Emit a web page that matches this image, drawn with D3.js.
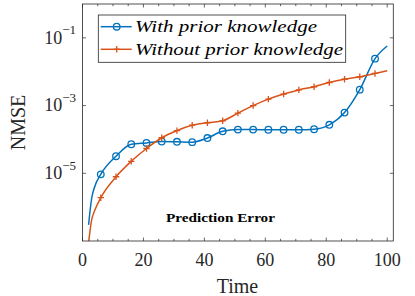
<!DOCTYPE html>
<html><head><meta charset="utf-8">
<script src="https://cdn.jsdelivr.net/npm/d3@7"></script>
</head><body style="margin:0">
<svg id="c" width="415" height="296">
</svg>
<script>
const timeWith = [2,3,4,6,11,16,21,26,31,36,41,46,51,56,61,66,71,76,81,86,91,96,100];
const nmseWith = [3.0e-7,1.8e-6,4.0e-6,9.3e-6,3.2e-5,7.2e-5,7.9e-5,8.7e-5,8.5e-5,8.3e-5,1.1e-4,1.74e-4,1.95e-4,1.95e-4,1.93e-4,1.93e-4,1.93e-4,2.0e-4,2.7e-4,6.2e-4,2.95e-3,2.43e-2,5.75e-2];
const timeWithout = [2,3,4,6,11,16,21,26,31,36,41,46,51,56,61,66,71,76,81,86,91,96,100];
const nmseWithout = [8.9e-8,4.2e-7,7.9e-7,1.9e-6,7.9e-6,2.26e-5,5.4e-5,1.12e-4,1.82e-4,2.63e-4,3.1e-4,3.55e-4,6.0e-4,1.0e-3,1.55e-3,2.19e-3,2.9e-3,3.6e-3,4.8e-3,6.0e-3,7.1e-3,8.9e-3,1.07e-2];
const markerTimes = [6,11,16,21,26,31,36,41,46,51,56,61,66,71,76,81,86,91,96];
const xTicks = [0,20,40,60,80,100];
const xMinorTicks = d3.range(0,101,5);
const yTickExps = [-1,-3,-5];
const seriesNames = ["With prior knowledge","Without prior knowledge"];
const colors = ["#0072BD","#D95319"];

const svg = d3.select("#c");
const L=82.5, R=393.3, T=4, B=241;
const xScale = d3.scaleLinear().domain([0,102]).range([L,R]);
const yScale = d3.scaleLog().domain([1e-7,1]).range([B,T]);
const axisCol = "#262626";

function addText(g, size, extra){
  return g.append("text").attr("style","font-family:'Liberation Serif';font-size:"+size+"px;"+(extra||""));
}

svg.append("defs").append("clipPath").attr("id","clip")
  .append("rect").attr("x",L).attr("y",T).attr("width",R-L).attr("height",B-T);

const tg = svg.append("g").attr("stroke",axisCol).attr("stroke-width",0.7);
xMinorTicks.forEach(v=>{
  const len = (v%20===0)?3.5:2.2;
  tg.append("line").attr("x1",xScale(v)).attr("x2",xScale(v)).attr("y1",B).attr("y2",B-len);
  tg.append("line").attr("x1",xScale(v)).attr("x2",xScale(v)).attr("y1",T).attr("y2",T+len);
});
yTickExps.forEach(e=>{
  const yy=yScale(Math.pow(10,e));
  tg.append("line").attr("x1",L).attr("x2",L+3.5).attr("y1",yy).attr("y2",yy);
  tg.append("line").attr("x1",R).attr("x2",R-3.5).attr("y1",yy).attr("y2",yy);
});

const series = [
  {t:timeWith, v:nmseWith},
  {t:timeWithout, v:nmseWithout}
];
const lineGen = d3.line().x(d=>xScale(d[0])).y(d=>yScale(d[1])).curve(d3.curveMonotoneX);
const lg = svg.append("g").attr("clip-path","url(#clip)");
series.forEach((s,i)=>{
  const pts = s.t.map((t,j)=>[t,s.v[j]]);
  lg.append("path").attr("d",lineGen(pts)).attr("fill","none")
    .attr("stroke",colors[i]).attr("stroke-width",1.5);
  pts.filter(p=>markerTimes.includes(p[0])).forEach(p=>{
    const cx=xScale(p[0]), cy=yScale(p[1]);
    if(i===0){
      lg.append("circle").attr("cx",cx).attr("cy",cy).attr("r",3.3)
        .attr("fill","none").attr("stroke",colors[i]).attr("stroke-width",1.3);
    } else {
      lg.append("line").attr("x1",cx-3.2).attr("x2",cx+3.2).attr("y1",cy).attr("y2",cy)
        .attr("stroke",colors[i]).attr("stroke-width",1.3);
      lg.append("line").attr("x1",cx).attr("x2",cx).attr("y1",cy-3.2).attr("y2",cy+3.2)
        .attr("stroke",colors[i]).attr("stroke-width",1.3);
    }
  });
});

svg.append("rect").attr("x",L).attr("y",T).attr("width",R-L).attr("height",B-T)
  .attr("fill","none").attr("stroke",axisCol).attr("stroke-width",0.8);

xTicks.forEach(v=>{
  addText(svg,18).attr("x",xScale(v)).attr("y",266).attr("text-anchor","middle")
    .attr("fill",axisCol).text(v);
});
yTickExps.forEach(e=>{
  const t = addText(svg,18).attr("x",76).attr("y",yScale(Math.pow(10,e))+5.8)
    .attr("text-anchor","end").attr("fill",axisCol);
  t.append("tspan").text("10");
  t.append("tspan").attr("dy",-9.5).attr("style","font-size:13px").text("\u2212"+Math.abs(e));
});

addText(svg,20).attr("x",237.5).attr("y",293).attr("text-anchor","middle")
  .attr("fill",axisCol).text("Time");
addText(svg,20).attr("transform","translate(25,122.5) rotate(-90)").attr("text-anchor","middle")
  .attr("fill",axisCol).text("NMSE");

addText(svg,12.5,"font-weight:bold;").attr("x",166).attr("y",221.7).attr("fill","#000")
  .attr("textLength",109).attr("lengthAdjust","spacingAndGlyphs").text("Prediction Error");

const leg = svg.append("g");
leg.append("rect").attr("x",98.3).attr("y",15).attr("width",247.4).attr("height",47.3)
  .attr("fill","#fff").attr("stroke",axisCol).attr("stroke-width",0.8);
const rowsY=[26.7,49.3], textW=[182,208];
seriesNames.forEach((n,i)=>{
  const yy=rowsY[i];
  leg.append("line").attr("x1",100.7).attr("x2",131.7).attr("y1",yy).attr("y2",yy)
    .attr("stroke",colors[i]).attr("stroke-width",1.5);
  if(i===0){
    leg.append("circle").attr("cx",116.7).attr("cy",yy).attr("r",3.3).attr("fill","none")
      .attr("stroke",colors[i]).attr("stroke-width",1.3);
  } else {
    leg.append("line").attr("x1",113.5).attr("x2",119.9).attr("y1",yy).attr("y2",yy)
      .attr("stroke",colors[i]).attr("stroke-width",1.3);
    leg.append("line").attr("x1",116.7).attr("x2",116.7).attr("y1",yy-3.2).attr("y2",yy+3.2)
      .attr("stroke",colors[i]).attr("stroke-width",1.3);
  }
  addText(leg,17,"font-style:italic;").attr("x",135).attr("y",yy+5.5).attr("fill","#000")
    .attr("textLength",textW[i]).attr("lengthAdjust","spacingAndGlyphs").text(n);
});
</script>
</body></html>
